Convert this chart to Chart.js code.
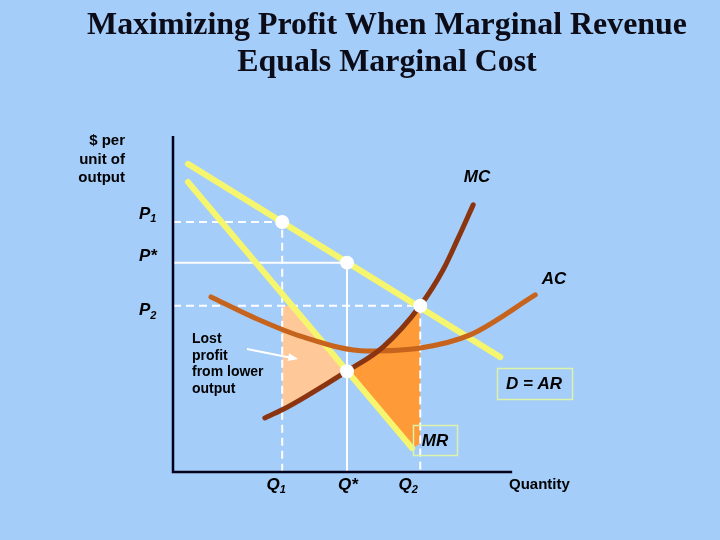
<!DOCTYPE html>
<html><head><meta charset="utf-8">
<script src="https://cdn.jsdelivr.net/npm/chart.js@4.4.0/dist/chart.umd.min.js"></script>
<style>html,body{margin:0;padding:0;background:#A4CDF9;}canvas{display:block}</style>
</head><body>
<canvas id="c" width="720" height="540"></canvas>
<script>
// ---- text ----
const titleLines = ["Maximizing Profit When Marginal Revenue", "Equals Marginal Cost"];
const yAxisTitle = ["$ per", "unit of", "output"];
const xAxisTitle = "Quantity";
const noteLines = ["Lost", "profit", "from lower", "output"];
const priceLabels = [["P", "1"], ["P*", ""], ["P", "2"]];
const quantityLabels = [["Q", "1"], ["Q*", ""], ["Q", "2"]];
const curveNames = ["MC", "AC", "D = AR", "MR"];

// ---- values (quantity units / $ per unit) ----
const quantities = [3.22, 5.13, 7.29];          // Q1, Q*, Q2
const prices = [7.44, 6.23, 4.95];              // P1, P*, P2
const mrAtQstar = 3.0;

const demandQ = [0.44, 9.65];
const demandP = [9.17, 3.42];
const mrQ = [0.44, 7.05];
const mrP = [8.63, 0.71];
const mcQ = [2.71, 3.22, 3.89, 5.13, 6.19, 7.29, 7.96, 8.38, 8.85];
const mcP = [1.61, 1.85, 2.23, 3.0, 3.72, 4.95, 6.01, 6.90, 7.95];
const acQ = [1.12, 2.36, 3.83, 5.72, 7.29, 8.76, 10.68];
const acP = [5.21, 4.61, 4.02, 3.60, 3.69, 4.08, 5.27];
const lostQ = [3.22, 3.51, 5.13, 3.89, 3.22];
const lostP = [4.95, 4.95, 3.0, 2.23, 1.85];
const gainQ = [5.13, 6.19, 7.29, 7.29, 7.05];
const gainP = [3.0, 3.72, 4.95, 0.85, 0.71];
const arrowQ = [2.18, 3.69];
const arrowP = [3.66, 3.36];
const axisMaxQ = 10, axisMaxP = 10;

const pts = (xs, ys) => xs.map((x, i) => ({x: x, y: ys[i]}));
const base = {showLine: true, pointRadius: 0, fill: false, tension: 0};

const BG = '#A4CDF9';
const textPlugin = {
  id: 'texts',
  beforeDraw(chart) {
    const c = chart.ctx; c.save(); c.fillStyle = BG; c.fillRect(0, 0, chart.width, chart.height); c.restore();
  },
  afterDatasetsDraw(chart) {
    const c = chart.ctx, xs = chart.scales.x, ys = chart.scales.y;
    c.save();
    // arrow
    const ax0 = xs.getPixelForValue(arrowQ[0]), ay0 = ys.getPixelForValue(arrowP[0]);
    const ax1 = xs.getPixelForValue(arrowQ[1]), ay1 = ys.getPixelForValue(arrowP[1]);
    c.strokeStyle = '#ffffff'; c.fillStyle = '#ffffff'; c.lineWidth = 2;
    c.beginPath(); c.moveTo(ax0, ay0); c.lineTo(ax1 - 6, ay1 - 1); c.stroke();
    const ang = Math.atan2(ay1 - ay0, ax1 - ax0);
    c.beginPath(); c.moveTo(ax1, ay1);
    c.lineTo(ax1 - 10 * Math.cos(ang) + 4 * Math.sin(ang), ay1 - 10 * Math.sin(ang) - 4 * Math.cos(ang));
    c.lineTo(ax1 - 10 * Math.cos(ang) - 4 * Math.sin(ang), ay1 - 10 * Math.sin(ang) + 4 * Math.cos(ang));
    c.closePath(); c.fill();

    // title
    c.fillStyle = '#0c0c18'; c.textAlign = 'center'; c.textBaseline = 'middle';
    c.font = 'bold 30px "Liberation Serif"';
    const w = c.measureText(titleLines[0]).width;
    const fs = 30 * 601 / w;
    c.font = 'bold ' + fs.toFixed(1) + 'px "Liberation Serif"';
    c.fillText(titleLines[0], 387, 26);
    c.fillText(titleLines[1], 387, 63);

    c.fillStyle = '#000000';
    c.font = 'bold 15px "Liberation Sans"';
    c.textAlign = 'right';
    yAxisTitle.forEach((t, i) => c.fillText(t, 125, 141 + i * 18.5));
    c.textAlign = 'left';
    c.fillText(xAxisTitle, 509, 485);
    c.font = 'bold 14px "Liberation Sans"';
    noteLines.forEach((t, i) => c.fillText(t, 192, 339 + i * 16.7));

    const sub = (lab, x, y, align) => {
      c.font = 'italic bold 17px "Liberation Sans"';
      const w1 = c.measureText(lab[0]).width;
      c.font = 'italic bold 11px "Liberation Sans"';
      const w2 = c.measureText(lab[1]).width;
      let left = align === 'center' ? x - (w1 + w2) / 2 : x;
      c.textAlign = 'left';
      c.font = 'italic bold 17px "Liberation Sans"';
      c.fillText(lab[0], left, y);
      c.font = 'italic bold 11px "Liberation Sans"';
      c.fillText(lab[1], left + w1, y + 5);
    };
    const pOff = [-8, -6, 5];
    priceLabels.forEach((lab, i) => sub(lab, 139, ys.getPixelForValue(prices[i]) + pOff[i], 'left'));
    const qOff = [-6, 1, -12];
    quantityLabels.forEach((lab, i) => sub(lab, xs.getPixelForValue(quantities[i]) + qOff[i], 485, 'center'));

    c.font = 'italic bold 17px "Liberation Sans"';
    c.textAlign = 'center';
    c.fillText(curveNames[0], 477, 177);
    c.fillText(curveNames[1], 554, 279);
    c.fillText(curveNames[2], 534, 384);
    c.fillText(curveNames[3], 435, 441);
    c.strokeStyle = '#DCF3A8'; c.lineWidth = 1.5;
    c.strokeRect(497.5, 368.5, 75, 31);
    c.strokeRect(413.5, 425.5, 44, 30);
    c.restore();
  }
};

new Chart(document.getElementById('c'), {
  type: 'scatter',
  data: {
    datasets: [
      Object.assign({}, base, {label: 'Equilibrium points', data: pts(quantities.concat([quantities[1]]), prices.concat([mrAtQstar])), showLine: false, pointRadius: 7, pointBackgroundColor: '#ffffff', pointBorderWidth: 0, order: 1}),
      Object.assign({}, base, {label: 'MC', data: pts(mcQ, mcP), borderColor: '#8A3410', borderWidth: 5, cubicInterpolationMode: 'monotone', borderCapStyle: 'round', order: 3}),
      Object.assign({}, base, {label: 'AC', data: pts(acQ, acP), borderColor: '#C6641E', borderWidth: 5, cubicInterpolationMode: 'monotone', borderCapStyle: 'round', order: 4}),
      Object.assign({}, base, {label: 'D = AR', data: pts(demandQ, demandP), borderColor: '#F6F66E', borderWidth: 6, borderCapStyle: 'round', order: 5}),
      Object.assign({}, base, {label: 'MR', data: pts(mrQ, mrP), borderColor: '#F6F66E', borderWidth: 6, borderCapStyle: 'round', order: 5}),
      Object.assign({}, base, {label: 'P1/Q1', data: pts([0, quantities[0], quantities[0]], [prices[0], prices[0], 0]), borderColor: '#ffffff', borderWidth: 2, borderDash: [8, 5], order: 7}),
      Object.assign({}, base, {label: 'P*/Q*', data: pts([0, quantities[1], quantities[1]], [prices[1], prices[1], 0]), borderColor: '#ffffff', borderWidth: 2, order: 7}),
      Object.assign({}, base, {label: 'P2/Q2', data: pts([0, quantities[2], quantities[2]], [prices[2], prices[2], 0]), borderColor: '#ffffff', borderWidth: 2, borderDash: [8, 5], order: 7}),
      Object.assign({}, base, {label: 'Axes', data: pts([0, 0, axisMaxQ], [axisMaxP, 0, 0]), borderColor: '#00001a', borderWidth: 2.5, order: 2}),
      Object.assign({}, base, {label: 'Lost profit', data: pts(lostQ, lostP), borderWidth: 0, borderColor: 'rgba(0,0,0,0)', backgroundColor: '#FFC898', fill: 'shape', order: 20}),
      Object.assign({}, base, {label: 'Gain', data: pts(gainQ, gainP), borderWidth: 0, borderColor: 'rgba(0,0,0,0)', backgroundColor: '#FF9A38', fill: 'shape', order: 20})
    ]
  },
  options: {
    responsive: false,
    animation: false,
    layout: {padding: {left: 173, top: 136, right: 140, bottom: 68}},
    scales: {
      x: {type: 'linear', min: 0, max: 12, display: false},
      y: {type: 'linear', min: 0, max: 10, display: false}
    },
    plugins: {legend: {display: false}, tooltip: {enabled: false}, title: {display: false}},
    clip: false
  },
  plugins: [textPlugin]
});
</script>
</body></html>
